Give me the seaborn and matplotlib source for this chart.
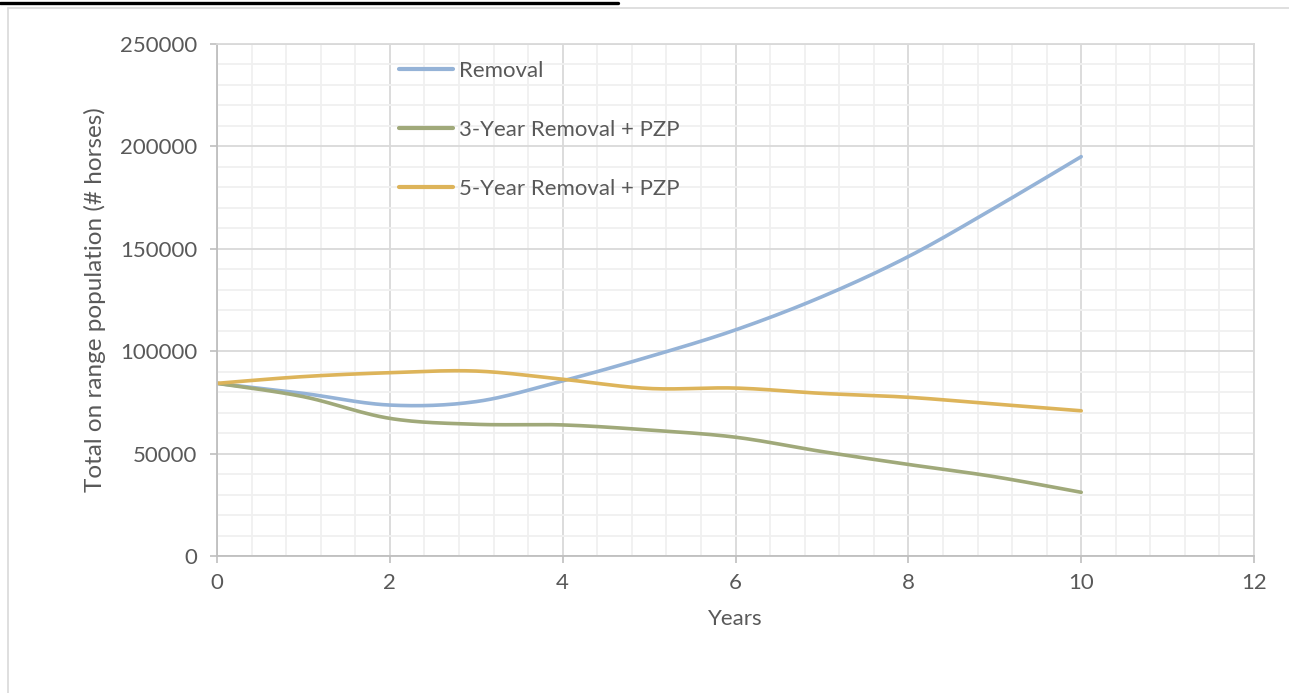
import numpy as np
import pandas as pd
import seaborn as sns
import matplotlib.pyplot as plt
from matplotlib.lines import Line2D
from matplotlib.ticker import MultipleLocator

years = [0, 1, 2, 3, 4, 5, 6, 7, 8, 9, 10]
removal = [84300, 79400, 73700, 75400, 85500, 97300, 110400, 126600, 146200, 170000, 195000]
removal_3yr_pzp = [84300, 77800, 67200, 64300, 64000, 61500, 58000, 51000, 44700, 38700, 31100]
removal_5yr_pzp = [84300, 87600, 89500, 90300, 86300, 81800, 82000, 79400, 77500, 74200, 70900]

series_names = ["Removal", "3-Year Removal + PZP", "5-Year Removal + PZP"]
series_values = [removal, removal_3yr_pzp, removal_5yr_pzp]
colors = ["#95B3D7", "#A0A97A", "#DDB45A"]

TEXT = "#595959"


def smooth(x, y, steps=24):
    # Catmull-Rom curve through the points, like Excel's "smoothed line"
    x = np.asarray(x, float)
    y = np.asarray(y, float)
    px = np.concatenate([[x[0]], x, [x[-1]]])
    py = np.concatenate([[y[0]], y, [y[-1]]])
    xs, ys = [], []
    t = np.linspace(0, 1, steps, endpoint=False)
    for i in range(1, len(px) - 2):
        for p, out in ((px, xs), (py, ys)):
            p0, p1, p2, p3 = p[i - 1], p[i], p[i + 1], p[i + 2]
            out.extend(0.5 * (2 * p1 + (-p0 + p2) * t
                              + (2 * p0 - 5 * p1 + 4 * p2 - p3) * t ** 2
                              + (-p0 + 3 * p1 - 3 * p2 + p3) * t ** 3))
    xs.append(x[-1])
    ys.append(y[-1])
    return np.array(xs), np.array(ys)


frames = []
for name, vals in zip(series_names, series_values):
    sx, sy = smooth(years, vals)
    frames.append(pd.DataFrame({"Years": sx, "Population": sy, "Series": name}))
df = pd.concat(frames, ignore_index=True)

sns.set_theme(style="white")
plt.rcParams["font.family"] = ["Lato", "DejaVu Sans"]

fig = plt.figure(figsize=(12.89, 6.93), dpi=100)
ax = fig.add_axes([0.1683, 0.1977, 0.8046, 0.7388])

sns.lineplot(data=df, x="Years", y="Population", hue="Series", palette=colors,
             hue_order=series_names, sort=False, estimator=None, linewidth=2.6, ax=ax)

ax.set_xlim(0, 12)
ax.set_ylim(0, 250000)
ax.xaxis.set_major_locator(MultipleLocator(2))
ax.xaxis.set_minor_locator(MultipleLocator(0.4))
ax.yaxis.set_major_locator(MultipleLocator(50000))
ax.yaxis.set_minor_locator(MultipleLocator(10000))
ax.grid(which="major", color="#D9D9D9", linewidth=1.3)
ax.grid(which="minor", color="#F0F0F0", linewidth=1.3)
ax.set_axisbelow(True)

for side in ["left", "bottom", "right", "top"]:
    ax.spines[side].set_color("#D9D9D9")
    ax.spines[side].set_linewidth(1.3)
ax.spines["left"].set_color("#BFBFBF")
ax.spines["bottom"].set_color("#BFBFBF")

ax.tick_params(axis="both", which="major", length=5, color="#BFBFBF", width=1.2,
               labelsize=16, labelcolor=TEXT, pad=6)
ax.tick_params(axis="x", which="major", direction="out", bottom=True, pad=7)
ax.tick_params(axis="y", which="major", direction="out", left=True, pad=9)
ax.tick_params(which="minor", length=0)

ax.set_xlabel("Years", fontsize=16, color=TEXT, labelpad=12)
ax.set_ylabel("Total on range population (# horses)", fontsize=17.5, color=TEXT, labelpad=10)

leg = ax.legend(loc="upper left", bbox_to_anchor=(0.156, 1.006), frameon=False,
                fontsize=16, labelcolor=TEXT, handlelength=2.45, handletextpad=0.25,
                labelspacing=1.75)
for h in leg.get_lines():
    h.set_linewidth(3)

# outer chart frame and the rule above it
fig.add_artist(Line2D([8 / 1289, 8 / 1289], [0, 1 - 8 / 693], color="#D9D9D9", linewidth=1.2))
fig.add_artist(Line2D([8 / 1289, 1], [1 - 8 / 693, 1 - 8 / 693], color="#D9D9D9", linewidth=1.2))
fig.add_artist(Line2D([0, 618 / 1289], [1 - 3 / 693, 1 - 3 / 693], color="black", linewidth=2.4))

fig.savefig("out.png", dpi=100)
